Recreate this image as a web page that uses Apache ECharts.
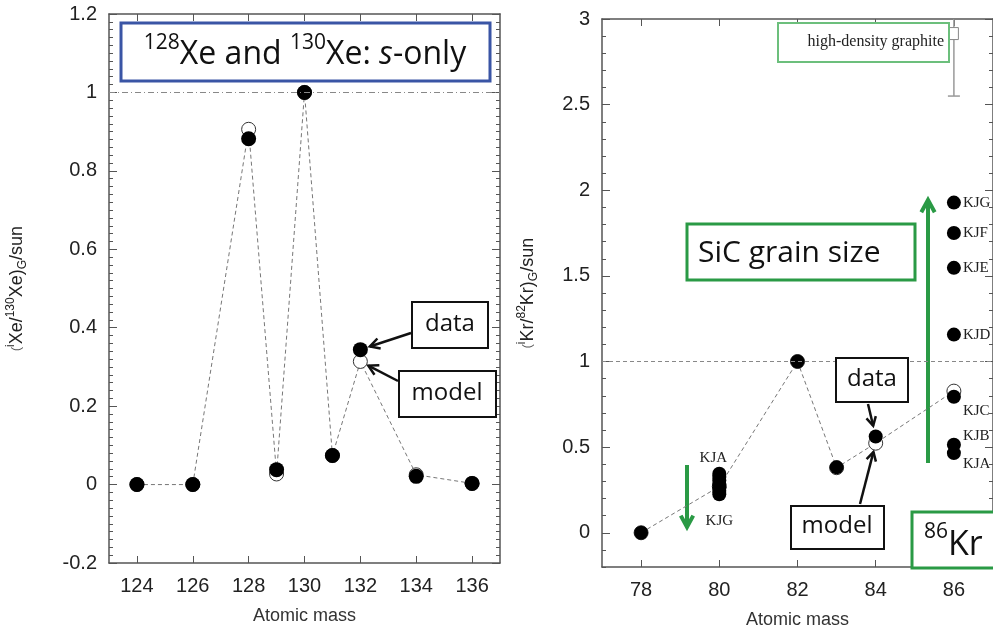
<!DOCTYPE html>
<html>
<head>
<meta charset="utf-8">
<script src="https://cdn.jsdelivr.net/npm/echarts@6/dist/echarts.min.js"></script>
<style>
  html, body { margin: 0; padding: 0; background: #fff; }
  #chart { width: 993px; height: 634px; }
</style>
</head>
<body>
<div id="chart"></div>
<script>
// ---- Xe panel (left) ----
const xeMass = [124, 126, 128, 129, 130, 131, 132, 134, 136];
const xeData = [0, 0, 0.882, 0.038, 1.0, 0.074, 0.344, 0.021, 0.003];
const xeModel = [0, 0, 0.906, 0.027, 1.0, 0.074, 0.314, 0.025, 0.003];
const xeTicks = [124, 126, 128, 130, 132, 134, 136];

// ---- Kr panel (right) ----
const krMass = [78, 80, 82, 83, 84, 86];
const krModel = [0, 0.27, 1.0, 0.38, 0.523, 0.827];
const krDataMass = [78, 82, 83, 84];
const krDataVal = [0, 1.0, 0.382, 0.562];
const kr80Names = ['KJA', 'KJB', 'KJC', 'KJD', 'KJE', 'KJF', 'KJG'];
const kr80Values = [0.345, 0.325, 0.305, 0.285, 0.265, 0.245, 0.225];
const kr86Names = ['KJG', 'KJF', 'KJE', 'KJD', 'KJC', 'KJB', 'KJA'];
const kr86Values = [1.928, 1.75, 1.547, 1.157, 0.794, 0.514, 0.465];
const krTicks = [78, 80, 82, 84, 86];
const krYTicks = [0, 0.5, 1, 1.5, 2, 2.5, 3];
// graphite: mass, low, high, box bottom, box top
const graphite = [[86, 2.55, 3.0, 2.88, 2.95]];

const axisColor = '#555';
const tickFont = { color: '#222', fontSize: 20, fontFamily: 'Liberation Sans' };
const nameRich = {
  s: { fontSize: 12, fontFamily: 'Liberation Sans', color: '#222', verticalAlign: 'top', lineHeight: 12 },
  sub: { fontSize: 12, fontFamily: 'Liberation Sans', color: '#222', verticalAlign: 'bottom', lineHeight: 10 },
  n: { fontSize: 18, fontFamily: 'Liberation Sans', color: '#222', lineHeight: 24 }
};

function xAx(grid, min, max, ticks, top) {
  return {
    type: 'value', gridIndex: grid, min: min, max: max,
    position: top ? 'top' : 'bottom',
    axisLine: { show: true, onZero: false, lineStyle: { color: axisColor, width: 1.5 } },
    axisTick: { show: true, inside: true, length: 7, customValues: ticks, lineStyle: { color: axisColor } },
    axisLabel: { show: !top, customValues: ticks, margin: 13, ...tickFont },
    splitLine: { show: false },
    name: top ? '' : 'Atomic mass',
    nameLocation: 'middle', nameGap: 44,
    nameTextStyle: { fontSize: 18, color: '#333', fontFamily: 'Liberation Sans' }
  };
}

const chart = echarts.init(document.getElementById('chart'));

const option = {
  animation: false,
  backgroundColor: '#fff',
  grid: [
    { left: 109, top: 14, width: 391, height: 549 },
    { left: 602, top: 19, width: 394, height: 552 }
  ],
  xAxis: [
    xAx(0, 123, 137, xeTicks, false),
    xAx(0, 123, 137, xeTicks, true),
    xAx(1, 77, 87, krTicks, false),
    xAx(1, 77, 87, krTicks, true)
  ],
  yAxis: [
    {
      type: 'value', gridIndex: 0, min: -0.2, max: 1.2, interval: 0.2, position: 'left',
      axisLine: { show: true, lineStyle: { color: axisColor, width: 1.5 } },
      axisTick: { inside: true, length: 8, lineStyle: { color: axisColor } },
      minorTick: { show: true, splitNumber: 10, length: 4, lineStyle: { color: axisColor } },
      axisLabel: { margin: 12, ...tickFont },
      splitLine: { show: false },
      name: '({s|i}{n|Xe/}{s|130}{n|Xe)}{sub|G}{n|/sun}',
      nameLocation: 'middle', nameGap: 80, nameRotate: 90,
      nameTextStyle: { rich: nameRich, lineHeight: 24 }
    },
    {
      type: 'value', gridIndex: 0, min: -0.2, max: 1.2, interval: 0.2, position: 'right',
      axisLine: { show: true, lineStyle: { color: axisColor, width: 1.5 } },
      axisTick: { inside: true, length: 8, lineStyle: { color: axisColor } },
      minorTick: { show: true, splitNumber: 10, length: 4, lineStyle: { color: axisColor } },
      axisLabel: { show: false },
      splitLine: { show: false }
    },
    {
      type: 'value', gridIndex: 1, min: -0.2, max: 3, position: 'left',
      axisLine: { show: true, lineStyle: { color: axisColor, width: 1.5 } },
      axisTick: { inside: true, length: 8, customValues: krYTicks, lineStyle: { color: axisColor } },
      axisLabel: { margin: 12, customValues: krYTicks, ...tickFont },
      splitLine: { show: false },
      name: '({s|i}{n|Kr/}{s|82}{n|Kr)}{sub|G}{n|/sun}',
      nameLocation: 'middle', nameGap: 62, nameRotate: 90,
      nameTextStyle: { rich: nameRich, lineHeight: 24 }
    },
    {
      type: 'value', gridIndex: 1, min: -0.2, max: 3, interval: 0.1, position: 'left',
      axisLine: { show: false },
      axisTick: { inside: true, length: 4, lineStyle: { color: axisColor } },
      axisLabel: { show: false },
      splitLine: { show: false }
    },
    {
      type: 'value', gridIndex: 1, min: -0.2, max: 3, position: 'right',
      axisLine: { show: true, lineStyle: { color: axisColor, width: 1.5 } },
      axisTick: { inside: true, length: 8, customValues: krYTicks, lineStyle: { color: axisColor } },
      axisLabel: { show: false },
      splitLine: { show: false }
    },
    {
      type: 'value', gridIndex: 1, min: -0.2, max: 3, interval: 0.1, position: 'right',
      axisLine: { show: false },
      axisTick: { inside: true, length: 4, lineStyle: { color: axisColor } },
      axisLabel: { show: false },
      splitLine: { show: false }
    }
  ],
  series: [
    // Xe model (open circles, dashed line)
    {
      type: 'line', xAxisIndex: 0, yAxisIndex: 0, z: 2,
      data: xeMass.map((m, i) => [m, xeModel[i]]),
      symbol: 'circle', symbolSize: 14, showAllSymbol: true,
      itemStyle: { color: '#fff', borderColor: '#333', borderWidth: 1 },
      lineStyle: { color: '#777', width: 1, type: [4, 3] },
      markLine: {
        silent: true, symbol: ['none', 'none'], label: { show: false },
        lineStyle: { color: '#888', width: 1, type: [6, 3, 1, 3] },
        data: [{ yAxis: 1 }]
      }
    },
    // Xe data
    {
      type: 'scatter', xAxisIndex: 0, yAxisIndex: 0, z: 3,
      data: xeMass.map((m, i) => [m, xeData[i]]),
      symbolSize: 15, itemStyle: { color: '#000', opacity: 1 }
    },
    // Kr model
    {
      type: 'line', xAxisIndex: 2, yAxisIndex: 2, z: 2,
      data: krMass.map((m, i) => [m, krModel[i]]),
      symbol: 'circle', symbolSize: 14, showAllSymbol: true,
      itemStyle: { color: '#fff', borderColor: '#333', borderWidth: 1 },
      lineStyle: { color: '#777', width: 1, type: [4, 3] },
      markLine: {
        silent: true, symbol: ['none', 'none'], label: { show: false },
        lineStyle: { color: '#888', width: 1, type: [4, 3] },
        data: [{ yAxis: 1 }]
      }
    },
    // Kr data
    {
      type: 'scatter', xAxisIndex: 2, yAxisIndex: 2, z: 3,
      data: krDataMass.map((m, i) => [m, krDataVal[i]]),
      symbolSize: 14, itemStyle: { color: '#000', opacity: 1 }
    },
    // Kr80 grains
    {
      type: 'scatter', xAxisIndex: 2, yAxisIndex: 2, z: 3,
      symbolSize: 14, itemStyle: { color: '#000', opacity: 1 },
      data: kr80Values.map((v, i) => ({
        name: kr80Names[i], value: [80, v],
        label: {
          show: i === 0 || i === kr80Values.length - 1,
          position: i === 0 ? 'top' : 'bottom',
          distance: i === 0 ? 1 : 12,
          offset: [i === 0 ? -6 : 0, 0]
        }
      })),
      label: { formatter: '{b}', fontFamily: 'Liberation Serif', fontSize: 15, color: '#222' }
    },
    // Kr86 grains
    {
      type: 'scatter', xAxisIndex: 2, yAxisIndex: 2, z: 3,
      symbolSize: 14, itemStyle: { color: '#000', opacity: 1 },
      data: kr86Values.map((v, i) => {
        const off = { KJC: [0, 14], KJB: [0, -9], KJA: [0, 11] }[kr86Names[i]] || [0, 0];
        return { name: kr86Names[i], value: [86, v], label: { offset: off } };
      }),
      label: {
        show: true, position: 'right', distance: 2, formatter: '{b}',
        fontFamily: 'Liberation Serif', fontSize: 15, color: '#222'
      }
    },
    // high-density graphite
    {
      type: 'custom', xAxisIndex: 2, yAxisIndex: 2, z: 2, clip: true,
      data: graphite,
      renderItem: function (params, api) {
        const lo = api.coord([api.value(0), api.value(1)]);
        const hi = api.coord([api.value(0), api.value(2)]);
        const b0 = api.coord([api.value(0), api.value(3)]);
        const b1 = api.coord([api.value(0), api.value(4)]);
        const st = { stroke: '#999', lineWidth: 1.5, fill: 'none' };
        return {
          type: 'group',
          children: [
            { type: 'line', shape: { x1: lo[0], y1: lo[1], x2: hi[0], y2: hi[1] }, style: st },
            { type: 'line', shape: { x1: lo[0] - 6, y1: lo[1], x2: lo[0] + 6, y2: lo[1] }, style: st },
            { type: 'rect', shape: { x: b1[0] - 4.5, y: b1[1], width: 9, height: b0[1] - b1[1] },
              style: { stroke: '#888', lineWidth: 1, fill: '#fff' } }
          ]
        };
      }
    }
  ]
};

chart.setOption(option);

// ---- annotations ----
function arrow(x1, y1, x2, y2, color, width, head) {
  const ang = Math.atan2(y2 - y1, x2 - x1);
  const a1 = ang + Math.PI - 0.5, a2 = ang + Math.PI + 0.5;
  return {
    type: 'group', z: 50,
    children: [
      { type: 'line', shape: { x1: x1, y1: y1, x2: x2, y2: y2 }, style: { stroke: color, lineWidth: width } },
      { type: 'polyline',
        shape: { points: [[x2 + head * Math.cos(a1), y2 + head * Math.sin(a1)], [x2, y2],
                          [x2 + head * Math.cos(a2), y2 + head * Math.sin(a2)]] },
        style: { stroke: color, lineWidth: width, fill: 'none' } }
    ]
  };
}
// arrow ending just outside a data point
function arrowTo(x1, y1, pt, gap, color, width, head) {
  const dx = x1 - pt[0], dy = y1 - pt[1];
  const d = Math.sqrt(dx * dx + dy * dy);
  return arrow(x1, y1, pt[0] + dx / d * gap, pt[1] + dy / d * gap, color, width, head);
}
function box(x, y, w, h, color, lw) {
  return { type: 'rect', z: 40, shape: { x: x, y: y, width: w, height: h },
           style: { fill: '#fff', stroke: color, lineWidth: lw } };
}
function label(x, y, text, size, align, extra) {
  return { type: 'text', z: 41,
           style: Object.assign({ x: x, y: y, text: text, fontSize: size, fontFamily: 'Open Sans',
                                  fill: '#111', align: align, verticalAlign: 'middle' }, extra || {}) };
}

const xePx = v => chart.convertToPixel({ xAxisIndex: 0, yAxisIndex: 0 }, v);
const krPx = v => chart.convertToPixel({ xAxisIndex: 2, yAxisIndex: 2 }, v);
const green = '#2a9a45';

const titleRich = {
  m: { fontSize: 32, fontFamily: 'Open Sans', color: '#111', lineHeight: 38, verticalAlign: 'bottom' },
  i: { fontSize: 32, fontFamily: 'Open Sans', fontStyle: 'italic', color: '#111', lineHeight: 38, verticalAlign: 'bottom' },
  sup: { fontSize: 21, fontFamily: 'Open Sans', color: '#111', lineHeight: 21, verticalAlign: 'top' }
};

chart.setOption({
  graphic: [
    // left panel
    box(121, 23, 369, 58, '#3a55a5', 3),
    label(305, 52, '{sup|128}{m|Xe and }{sup|130}{m|Xe: }{i|s}{m|-only}', 32, 'center', { rich: titleRich }),
    box(412, 302, 76, 46, '#111', 2),
    label(450, 324, 'data', 24, 'center'),
    box(399, 371, 97, 46, '#111', 2),
    label(447, 393, 'model', 24, 'center'),
    arrowTo(411, 333, xePx([132, xeData[6]]), 10, '#111', 2.5, 11),
    arrowTo(398, 381, xePx([132, xeModel[6]]), 9, '#111', 2.5, 11),
    // right panel
    box(778, 23, 171, 39, '#6cbf7c', 2),
    label(944, 42, 'high-density graphite', 16, 'right', { fontFamily: 'Liberation Serif', fill: '#222' }),
    box(687, 224, 228, 56, green, 3),
    label(698, 253, 'SiC grain size', 30, 'left'),
    arrow(928, 463, 928, 200, green, 4, 14),
    arrow(687, 465, 687, 527, green, 4, 13),
    box(836, 358, 72, 44, '#111', 2),
    label(872, 379, 'data', 24, 'center'),
    box(791, 506, 93, 43, '#111', 2),
    label(837, 526, 'model', 24, 'center'),
    arrowTo(868, 404, krPx([84, krDataVal[3]]), 11, '#111', 2.5, 10),
    arrowTo(860, 504, krPx([84, krModel[4]]), 9, '#111', 2.5, 10),
    box(912, 512, 100, 56, green, 3),
    label(924, 542, '{sup|86}{m|Kr}', 30, 'left', {
      rich: {
        m: { fontSize: 34, fontFamily: 'Open Sans', color: '#111', lineHeight: 40, verticalAlign: 'bottom' },
        sup: { fontSize: 21, fontFamily: 'Open Sans', color: '#111', lineHeight: 21, verticalAlign: 'top' }
      }
    })
  ]
});
</script>
</body>
</html>
